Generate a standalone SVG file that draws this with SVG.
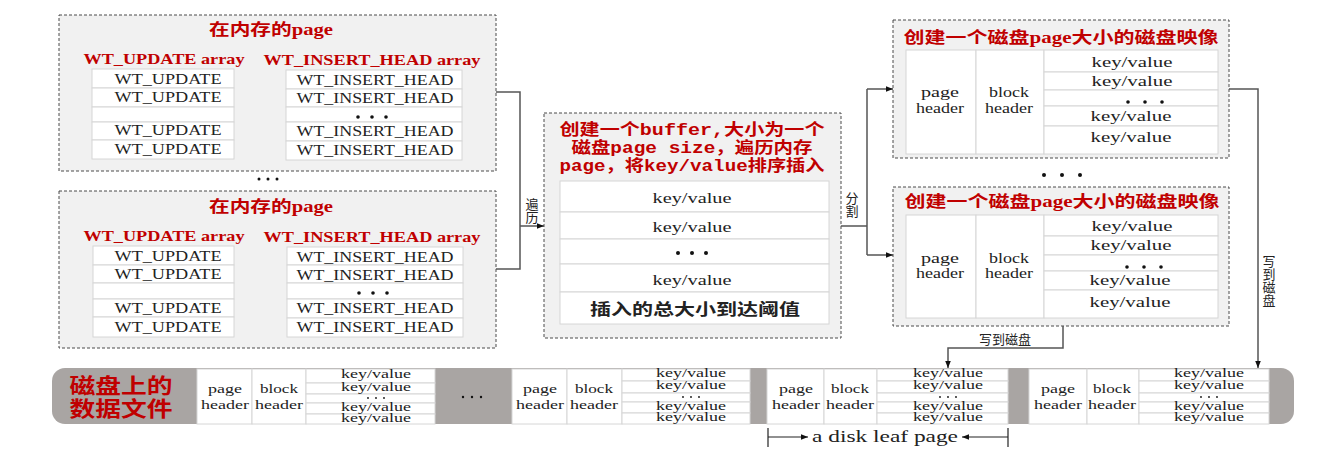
<svg xmlns="http://www.w3.org/2000/svg" width="1326" height="458" viewBox="0 0 1326 458">
<style>
.bg{fill:#ffffff}
.box{fill:#f1f1f1;stroke:#4a4a4a;stroke-width:1;stroke-dasharray:3 2}
.cell{fill:#ffffff;stroke:#d6d6d6;stroke-width:1}
.t{font-family:"Liberation Serif","Noto Sans CJK SC",serif;fill:#222;text-anchor:middle}
.w{font-size:15px}
.red{font-family:"Liberation Serif","Noto Sans CJK SC",serif;font-weight:bold;fill:#c00000;text-anchor:middle}
.redm{font-family:"Liberation Mono","Noto Sans CJK SC",monospace;font-weight:bold;fill:#c00000;text-anchor:middle;font-size:16px}
.lv{font-family:"Noto Sans CJK SC","Liberation Sans",sans-serif;font-size:13px;fill:#222;text-anchor:middle}
.vt{font-family:"Noto Sans CJK SC","Liberation Sans",sans-serif;font-size:13px;fill:#222;text-anchor:middle;writing-mode:vertical-rl}
.dots{fill:#111}
.conn{fill:none;stroke:#555;stroke-width:1.5}
.strip{fill:#a9a5a3}
.sk{font-size:11.5px}
.sh{font-size:13px}
</style>
<defs>
<marker id="ah" viewBox="0 0 10 10" refX="10" refY="5" markerWidth="7" markerHeight="7" orient="auto" markerUnits="userSpaceOnUse">
<path d="M0,1 L10,5 L0,9 z" fill="#111"/>
</marker>
</defs>
<rect class="bg" x="0" y="0" width="1326" height="458"/>

<!-- In-memory page 1 -->
<g id="mem-page-1">
<rect class="box" x="59" y="15" width="437" height="156"/>
<text class="red" x="271" y="35" font-size="16" textLength="124" lengthAdjust="spacingAndGlyphs">在内存的page</text>
<text class="red" x="164" y="64" font-size="14" textLength="161" lengthAdjust="spacingAndGlyphs">WT_UPDATE array</text>
<text class="red" x="372" y="65" font-size="14" textLength="217" lengthAdjust="spacingAndGlyphs">WT_INSERT_HEAD array</text>
<rect class="cell" x="92" y="69" width="142" height="19"/>
<rect class="cell" x="92" y="88" width="142" height="19"/>
<rect class="cell" x="92" y="107" width="142" height="15"/>
<rect class="cell" x="92" y="122" width="142" height="18"/>
<rect class="cell" x="92" y="140" width="142" height="19"/>
<text class="t w" x="168" y="84" textLength="107" lengthAdjust="spacingAndGlyphs">WT_UPDATE</text>
<text class="t w" x="168" y="102" textLength="107" lengthAdjust="spacingAndGlyphs">WT_UPDATE</text>
<text class="t w" x="168" y="135" textLength="107" lengthAdjust="spacingAndGlyphs">WT_UPDATE</text>
<text class="t w" x="168" y="154" textLength="107" lengthAdjust="spacingAndGlyphs">WT_UPDATE</text>
<rect class="cell" x="286" y="70" width="176" height="19"/>
<rect class="cell" x="286" y="89" width="176" height="18"/>
<rect class="cell" x="286" y="107" width="176" height="15"/>
<rect class="cell" x="286" y="122" width="176" height="19"/>
<rect class="cell" x="286" y="141" width="176" height="19"/>
<text class="t w" x="375" y="85" textLength="157" lengthAdjust="spacingAndGlyphs">WT_INSERT_HEAD</text>
<text class="t w" x="375" y="103" textLength="157" lengthAdjust="spacingAndGlyphs">WT_INSERT_HEAD</text>
<g class="dots"><circle cx="358" cy="117" r="1.8"/><circle cx="372" cy="117" r="1.8"/><circle cx="386" cy="117" r="1.8"/></g>
<text class="t w" x="375" y="136" textLength="157" lengthAdjust="spacingAndGlyphs">WT_INSERT_HEAD</text>
<text class="t w" x="375" y="155" textLength="157" lengthAdjust="spacingAndGlyphs">WT_INSERT_HEAD</text>
</g>

<g id="mem-ellipsis" class="dots"><circle cx="259" cy="179" r="1.5"/><circle cx="268" cy="179" r="1.5"/><circle cx="277" cy="179" r="1.5"/></g>

<!-- In-memory page 2 -->
<g id="mem-page-2">
<rect class="box" x="59" y="191" width="437" height="157"/>
<text class="red" x="271" y="212" font-size="16" textLength="124" lengthAdjust="spacingAndGlyphs">在内存的page</text>
<text class="red" x="164" y="241" font-size="14" textLength="161" lengthAdjust="spacingAndGlyphs">WT_UPDATE array</text>
<text class="red" x="372" y="242" font-size="14" textLength="217" lengthAdjust="spacingAndGlyphs">WT_INSERT_HEAD array</text>
<rect class="cell" x="93" y="246" width="141" height="19"/>
<rect class="cell" x="93" y="265" width="141" height="18"/>
<rect class="cell" x="93" y="283" width="141" height="16"/>
<rect class="cell" x="93" y="299" width="141" height="18"/>
<rect class="cell" x="93" y="317" width="141" height="20"/>
<text class="t w" x="168" y="261" textLength="107" lengthAdjust="spacingAndGlyphs">WT_UPDATE</text>
<text class="t w" x="168" y="279" textLength="107" lengthAdjust="spacingAndGlyphs">WT_UPDATE</text>
<text class="t w" x="168" y="313" textLength="107" lengthAdjust="spacingAndGlyphs">WT_UPDATE</text>
<text class="t w" x="168" y="332" textLength="107" lengthAdjust="spacingAndGlyphs">WT_UPDATE</text>
<rect class="cell" x="287" y="247" width="176" height="18"/>
<rect class="cell" x="287" y="265" width="176" height="18"/>
<rect class="cell" x="287" y="283" width="176" height="16"/>
<rect class="cell" x="287" y="299" width="176" height="19"/>
<rect class="cell" x="287" y="318" width="176" height="19"/>
<text class="t w" x="375" y="262" textLength="157" lengthAdjust="spacingAndGlyphs">WT_INSERT_HEAD</text>
<text class="t w" x="375" y="280" textLength="157" lengthAdjust="spacingAndGlyphs">WT_INSERT_HEAD</text>
<g class="dots"><circle cx="359" cy="293" r="1.8"/><circle cx="373" cy="293" r="1.8"/><circle cx="387" cy="293" r="1.8"/></g>
<text class="t w" x="375" y="313" textLength="157" lengthAdjust="spacingAndGlyphs">WT_INSERT_HEAD</text>
<text class="t w" x="375" y="332" textLength="157" lengthAdjust="spacingAndGlyphs">WT_INSERT_HEAD</text>
</g>

<!-- Buffer -->
<g id="buffer">
<rect class="box" x="544" y="113" width="297" height="225"/>
<text class="redm" x="692" y="135" textLength="265" lengthAdjust="spacingAndGlyphs">创建一个buffer,大小为一个</text>
<text class="redm" x="692" y="153" textLength="241" lengthAdjust="spacingAndGlyphs">磁盘page size，遍历内存</text>
<text class="redm" x="692" y="171" textLength="265" lengthAdjust="spacingAndGlyphs">page，将key/value排序插入</text>
<rect class="cell" x="560" y="181" width="269" height="31"/>
<rect class="cell" x="560" y="212" width="269" height="27"/>
<rect class="cell" x="560" y="239" width="269" height="25"/>
<rect class="cell" x="560" y="264" width="269" height="28"/>
<rect class="cell" x="560" y="292" width="269" height="32"/>
<text class="t w" x="692" y="203" textLength="79" lengthAdjust="spacingAndGlyphs">key/value</text>
<text class="t w" x="692" y="232" textLength="79" lengthAdjust="spacingAndGlyphs">key/value</text>
<g class="dots"><circle cx="678" cy="253" r="2"/><circle cx="692" cy="253" r="2"/><circle cx="706" cy="253" r="2"/></g>
<text class="t w" x="692" y="285" textLength="79" lengthAdjust="spacingAndGlyphs">key/value</text>
<text x="695" y="315" font-family="Noto Sans CJK SC, sans-serif" font-weight="bold" font-size="16" fill="#222" text-anchor="middle" textLength="210" lengthAdjust="spacingAndGlyphs">插入的总大小到达阈值</text>
</g>

<!-- Disk image 1 -->
<g id="disk-image-1">
<rect class="box" x="893" y="20" width="336" height="138"/>
<text class="red" x="1061" y="43" font-size="16" textLength="315" lengthAdjust="spacingAndGlyphs">创建一个磁盘page大小的磁盘映像</text>
<rect class="cell" x="906" y="50" width="70" height="104"/>
<rect class="cell" x="976" y="50" width="68" height="104"/>
<rect class="cell" x="1044" y="50" width="174" height="22"/>
<rect class="cell" x="1044" y="72" width="174" height="18"/>
<rect class="cell" x="1044" y="90" width="174" height="16"/>
<rect class="cell" x="1044" y="106" width="174" height="20"/>
<rect class="cell" x="1044" y="126" width="174" height="28"/>
<text class="t w" x="940" y="97" textLength="38" lengthAdjust="spacingAndGlyphs">page</text>
<text class="t w" x="940" y="113" textLength="48" lengthAdjust="spacingAndGlyphs">header</text>
<text class="t w" x="1009" y="97" textLength="40" lengthAdjust="spacingAndGlyphs">block</text>
<text class="t w" x="1009" y="113" textLength="48" lengthAdjust="spacingAndGlyphs">header</text>
<text class="t w" x="1132" y="67" textLength="81" lengthAdjust="spacingAndGlyphs">key/value</text>
<text class="t w" x="1132" y="86" textLength="81" lengthAdjust="spacingAndGlyphs">key/value</text>
<g class="dots"><circle cx="1128" cy="102" r="1.8"/><circle cx="1145" cy="102" r="1.8"/><circle cx="1162" cy="102" r="1.8"/></g>
<text class="t w" x="1131" y="121" textLength="81" lengthAdjust="spacingAndGlyphs">key/value</text>
<text class="t w" x="1131" y="142" textLength="81" lengthAdjust="spacingAndGlyphs">key/value</text>
</g>

<g id="disk-image-ellipsis" class="dots"><circle cx="1044" cy="175" r="2"/><circle cx="1062" cy="175" r="2"/><circle cx="1080" cy="175" r="2"/></g>

<!-- Disk image 2 -->
<g id="disk-image-2">
<rect class="box" x="893" y="187" width="336" height="139"/>
<text class="red" x="1062" y="207" font-size="16" textLength="315" lengthAdjust="spacingAndGlyphs">创建一个磁盘page大小的磁盘映像</text>
<rect class="cell" x="906" y="215" width="70" height="103"/>
<rect class="cell" x="976" y="215" width="68" height="103"/>
<rect class="cell" x="1044" y="215" width="174" height="21"/>
<rect class="cell" x="1044" y="236" width="174" height="19"/>
<rect class="cell" x="1044" y="255" width="174" height="16"/>
<rect class="cell" x="1044" y="271" width="174" height="19"/>
<rect class="cell" x="1044" y="290" width="174" height="28"/>
<text class="t w" x="940" y="263" textLength="38" lengthAdjust="spacingAndGlyphs">page</text>
<text class="t w" x="940" y="278" textLength="48" lengthAdjust="spacingAndGlyphs">header</text>
<text class="t w" x="1009" y="263" textLength="40" lengthAdjust="spacingAndGlyphs">block</text>
<text class="t w" x="1009" y="278" textLength="48" lengthAdjust="spacingAndGlyphs">header</text>
<text class="t w" x="1132" y="231" textLength="81" lengthAdjust="spacingAndGlyphs">key/value</text>
<text class="t w" x="1131" y="250" textLength="81" lengthAdjust="spacingAndGlyphs">key/value</text>
<g class="dots"><circle cx="1127" cy="267" r="1.8"/><circle cx="1144" cy="267" r="1.8"/><circle cx="1161" cy="267" r="1.8"/></g>
<text class="t w" x="1130" y="285" textLength="81" lengthAdjust="spacingAndGlyphs">key/value</text>
<text class="t w" x="1130" y="307" textLength="81" lengthAdjust="spacingAndGlyphs">key/value</text>
</g>

<!-- Disk data file -->
<g id="disk-file">
<rect class="strip" x="52" y="368" width="1242" height="56" rx="13"/>
<text x="121" y="393" font-family="Liberation Serif, Noto Sans CJK SC, serif" font-size="21" font-weight="bold" fill="#c00000" text-anchor="middle" textLength="103" lengthAdjust="spacingAndGlyphs">磁盘上的</text>
<text x="121" y="416" font-family="Liberation Serif, Noto Sans CJK SC, serif" font-size="21" font-weight="bold" fill="#c00000" text-anchor="middle" textLength="103" lengthAdjust="spacingAndGlyphs">数据文件</text>
<g class="dots"><circle cx="463" cy="397" r="1.2"/><circle cx="472" cy="397" r="1.2"/><circle cx="481" cy="397" r="1.2"/></g>
</g>

<g id="disk-page-1">
<rect class="cell" x="197" y="369" width="55" height="55"/>
<rect class="cell" x="252" y="369" width="54" height="55"/>
<rect class="cell" x="306" y="369" width="129" height="14"/>
<rect class="cell" x="306" y="383" width="129" height="11"/>
<rect class="cell" x="306" y="394" width="129" height="9"/>
<rect class="cell" x="306" y="403" width="129" height="11"/>
<rect class="cell" x="306" y="414" width="129" height="10"/>
<text class="t sh" x="225" y="393" textLength="34" lengthAdjust="spacingAndGlyphs">page</text>
<text class="t sh" x="225" y="409" textLength="48" lengthAdjust="spacingAndGlyphs">header</text>
<text class="t sh" x="279" y="393" textLength="38" lengthAdjust="spacingAndGlyphs">block</text>
<text class="t sh" x="279" y="409" textLength="48" lengthAdjust="spacingAndGlyphs">header</text>
<text class="t sk" x="376" y="378" textLength="70" lengthAdjust="spacingAndGlyphs">key/value</text>
<text class="t sk" x="376" y="391" textLength="70" lengthAdjust="spacingAndGlyphs">key/value</text>
<g class="dots"><circle cx="368" cy="398" r="0.9"/><circle cx="376" cy="398" r="0.9"/><circle cx="384" cy="398" r="0.9"/></g>
<text class="t sk" x="376" y="411" textLength="70" lengthAdjust="spacingAndGlyphs">key/value</text>
<text class="t sk" x="376" y="422" textLength="70" lengthAdjust="spacingAndGlyphs">key/value</text>
</g>

<g id="disk-page-2">
<rect class="cell" x="512" y="369" width="55" height="55"/>
<rect class="cell" x="567" y="369" width="55" height="55"/>
<rect class="cell" x="622" y="369" width="128" height="12"/>
<rect class="cell" x="622" y="381" width="128" height="12"/>
<rect class="cell" x="622" y="393" width="128" height="9"/>
<rect class="cell" x="622" y="402" width="128" height="11"/>
<rect class="cell" x="622" y="413" width="128" height="11"/>
<text class="t sh" x="540" y="393" textLength="34" lengthAdjust="spacingAndGlyphs">page</text>
<text class="t sh" x="540" y="409" textLength="48" lengthAdjust="spacingAndGlyphs">header</text>
<text class="t sh" x="594" y="393" textLength="38" lengthAdjust="spacingAndGlyphs">block</text>
<text class="t sh" x="594" y="409" textLength="48" lengthAdjust="spacingAndGlyphs">header</text>
<text class="t sk" x="691" y="377" textLength="70" lengthAdjust="spacingAndGlyphs">key/value</text>
<text class="t sk" x="691" y="389" textLength="70" lengthAdjust="spacingAndGlyphs">key/value</text>
<g class="dots"><circle cx="683" cy="397" r="0.9"/><circle cx="691" cy="397" r="0.9"/><circle cx="699" cy="397" r="0.9"/></g>
<text class="t sk" x="691" y="410" textLength="70" lengthAdjust="spacingAndGlyphs">key/value</text>
<text class="t sk" x="691" y="421" textLength="70" lengthAdjust="spacingAndGlyphs">key/value</text>
</g>

<g id="disk-page-3">
<rect class="cell" x="767" y="369" width="57" height="55"/>
<rect class="cell" x="824" y="369" width="53" height="55"/>
<rect class="cell" x="877" y="369" width="131" height="12"/>
<rect class="cell" x="877" y="381" width="131" height="12"/>
<rect class="cell" x="877" y="393" width="131" height="9"/>
<rect class="cell" x="877" y="402" width="131" height="11"/>
<rect class="cell" x="877" y="413" width="131" height="11"/>
<text class="t sh" x="796" y="393" textLength="34" lengthAdjust="spacingAndGlyphs">page</text>
<text class="t sh" x="796" y="409" textLength="48" lengthAdjust="spacingAndGlyphs">header</text>
<text class="t sh" x="850" y="393" textLength="38" lengthAdjust="spacingAndGlyphs">block</text>
<text class="t sh" x="850" y="409" textLength="48" lengthAdjust="spacingAndGlyphs">header</text>
<text class="t sk" x="948" y="377" textLength="70" lengthAdjust="spacingAndGlyphs">key/value</text>
<text class="t sk" x="948" y="389" textLength="70" lengthAdjust="spacingAndGlyphs">key/value</text>
<g class="dots"><circle cx="940" cy="397" r="0.9"/><circle cx="948" cy="397" r="0.9"/><circle cx="956" cy="397" r="0.9"/></g>
<text class="t sk" x="948" y="410" textLength="70" lengthAdjust="spacingAndGlyphs">key/value</text>
<text class="t sk" x="948" y="421" textLength="70" lengthAdjust="spacingAndGlyphs">key/value</text>
</g>

<g id="disk-page-4">
<rect class="cell" x="1029" y="369" width="58" height="55"/>
<rect class="cell" x="1087" y="369" width="52" height="55"/>
<rect class="cell" x="1139" y="369" width="130" height="12"/>
<rect class="cell" x="1139" y="381" width="130" height="12"/>
<rect class="cell" x="1139" y="393" width="130" height="9"/>
<rect class="cell" x="1139" y="402" width="130" height="11"/>
<rect class="cell" x="1139" y="413" width="130" height="11"/>
<text class="t sh" x="1058" y="393" textLength="34" lengthAdjust="spacingAndGlyphs">page</text>
<text class="t sh" x="1058" y="409" textLength="48" lengthAdjust="spacingAndGlyphs">header</text>
<text class="t sh" x="1112" y="393" textLength="38" lengthAdjust="spacingAndGlyphs">block</text>
<text class="t sh" x="1112" y="409" textLength="48" lengthAdjust="spacingAndGlyphs">header</text>
<text class="t sk" x="1209" y="377" textLength="70" lengthAdjust="spacingAndGlyphs">key/value</text>
<text class="t sk" x="1209" y="389" textLength="70" lengthAdjust="spacingAndGlyphs">key/value</text>
<g class="dots"><circle cx="1201" cy="397" r="0.9"/><circle cx="1209" cy="397" r="0.9"/><circle cx="1217" cy="397" r="0.9"/></g>
<text class="t sk" x="1209" y="410" textLength="70" lengthAdjust="spacingAndGlyphs">key/value</text>
<text class="t sk" x="1209" y="421" textLength="70" lengthAdjust="spacingAndGlyphs">key/value</text>
</g>

<!-- Connectors -->
<g id="connectors">
<polyline class="conn" points="496,92 520,92 520,269 496,269"/>
<line class="conn" x1="520" y1="226" x2="544" y2="226" stroke="#222" marker-end="url(#ah)"/>
<text class="vt" x="532" y="211">遍历</text>
<line class="conn" x1="841" y1="226" x2="867" y2="226" stroke="#222"/>
<line class="conn" x1="867" y1="89" x2="867" y2="255" stroke="#222"/>
<line class="conn" x1="867" y1="89" x2="893" y2="89" stroke="#222" marker-end="url(#ah)"/>
<line class="conn" x1="867" y1="255" x2="893" y2="255" stroke="#222" marker-end="url(#ah)"/>
<text class="vt" x="852" y="205">分割</text>
<polyline class="conn" points="1229,89 1258,89 1258,368" marker-end="url(#ah)"/>
<text class="vt" x="1269" y="281">写到磁盘</text>
<polyline class="conn" points="1063,326 1063,348 948,348 948,368" marker-end="url(#ah)"/>
<text class="lv" x="1005" y="344">写到磁盘</text>
</g>

<!-- Leaf page span -->
<g id="leaf-page-span">
<line x1="768" y1="428" x2="768" y2="447" stroke="#222" stroke-width="1.2"/>
<line x1="768" y1="437" x2="808" y2="437" stroke="#222" stroke-width="1.2" marker-end="url(#ah)"/>
<text x="885" y="442" font-family="Liberation Serif, serif" font-size="17" fill="#222" text-anchor="middle" textLength="146" lengthAdjust="spacingAndGlyphs">a disk leaf page</text>
<line x1="1008" y1="437" x2="962" y2="437" stroke="#222" stroke-width="1.2" marker-end="url(#ah)"/>
<line x1="1008" y1="428" x2="1008" y2="447" stroke="#222" stroke-width="1.2"/>
</g>
</svg>
